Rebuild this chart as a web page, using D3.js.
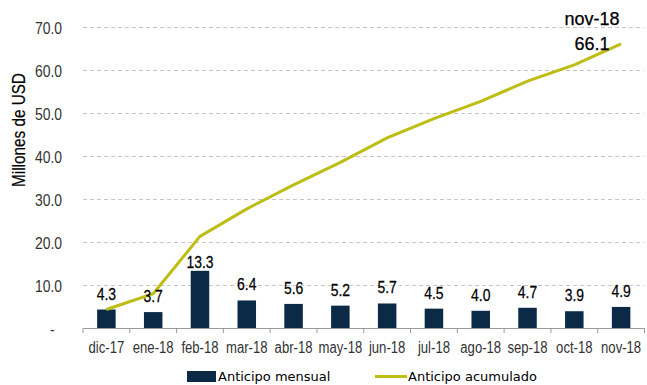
<!DOCTYPE html>
<html>
<head>
<meta charset="utf-8">
<script src="https://cdn.jsdelivr.net/npm/d3@7"></script>
<style>
  html, body { margin: 0; padding: 0; background: #fff; }
  svg { display: block; }
  text { font-family: "Liberation Sans", Arial, sans-serif; }
  .legend text { font-family: "DejaVu Sans", Verdana, sans-serif; }
  .heavy { stroke: #000; stroke-width: 0.25px; paint-order: stroke; }
</style>
</head>
<body>
<svg id="chart" width="647" height="385"></svg>
<script>
// Monthly and accumulated advance payments, millions of USD
const months = ["dic-17", "ene-18", "feb-18", "mar-18", "abr-18", "may-18",
                "jun-18", "jul-18", "ago-18", "sep-18", "oct-18", "nov-18"];
const monthly = [4.3, 3.7, 13.3, 6.4, 5.6, 5.2, 5.7, 4.5, 4.0, 4.7, 3.9, 4.9];
const accumulated = [4.3, 8.0, 21.3, 27.7, 33.3, 38.5, 44.2, 48.7, 52.7, 57.4, 61.2, 66.1];
const yTicks = [0, 10, 20, 30, 40, 50, 60, 70];
const lastLabel = "nov-18";

const barColor = "#0b2a45";
const lineColor = "#bdbd14";
const NARROW = 0.82; // horizontal squeeze giving a condensed face

const svg = d3.select("#chart");
const margin = { left: 83, right: 2.5, top: 27, bottom: 57 };
const W = 647, H = 385;

const x = d3.scaleBand().domain(months).range([margin.left, W - margin.right]).paddingInner(0).paddingOuter(0);
const y = d3.scaleLinear().domain([0, 70]).range([H - margin.bottom, margin.top]);

// condensed text placed at (px, py)
function narrowText(sel, px, py) {
  return sel.attr("x", 0).attr("y", 0)
    .attr("transform", (d, i) => `translate(${px(d, i)},${py(d, i)}) scale(${NARROW},1)`);
}

// dashed gridlines
svg.append("g").selectAll("line").data(yTicks.filter(d => d > 0)).join("line")
  .attr("x1", margin.left).attr("x2", 644)
  .attr("y1", d => Math.round(y(d)) + 0.5).attr("y2", d => Math.round(y(d)) + 0.5)
  .attr("stroke", "#c6c6c6").attr("stroke-width", 1).attr("stroke-dasharray", "4,3");

// y axis labels
const yAxis = d3.axisLeft(y).tickValues(yTicks).tickSize(0).tickPadding(0)
  .tickFormat(d => d === 0 ? "-" : d3.format(".1f")(d));
const gy = svg.append("g").attr("transform", `translate(${margin.left - 21},0)`).call(yAxis);
gy.select(".domain").remove();
gy.attr("font-family", null).attr("font-size", null);
gy.selectAll("text")
  .attr("font-size", 17).attr("fill", "#333").attr("dy", "0.36em")
  .attr("x", d => d === 0 ? -9 : 0)
  .attr("transform", `scale(${NARROW},1)`);

// y axis title
svg.append("text").attr("class", "heavy")
  .attr("transform", `translate(25,130) rotate(-90) scale(0.85,1)`)
  .attr("text-anchor", "middle").attr("font-size", 18).attr("fill", "#000")
  .style("stroke-width", "0.2px")
  .text("Millones de USD");

// bars
const barW = 18.5;
svg.append("g").selectAll("rect").data(months).join("rect")
  .attr("x", d => x(d) + x.bandwidth() / 2 - barW / 2)
  .attr("width", barW)
  .attr("y", (d, i) => y(monthly[i]))
  .attr("height", (d, i) => y(0) - y(monthly[i]))
  .attr("fill", barColor);

// x axis
const xAxis = d3.axisBottom(x).tickSize(0);
const gx = svg.append("g").attr("transform", `translate(0,${y(0)})`).call(xAxis);
gx.attr("font-family", null).attr("font-size", null);
gx.select(".domain").attr("stroke", "#9a9a9a");
gx.selectAll("text").attr("font-size", 16).attr("fill", "#333")
  .attr("y", 25).attr("dy", 0).attr("transform", `scale(${NARROW},1)`);
// band boundary ticks
gx.append("g").selectAll("line").data(d3.range(months.length + 1)).join("line")
  .attr("x1", i => margin.left + i * x.step()).attr("x2", i => margin.left + i * x.step())
  .attr("y1", 0).attr("y2", 5).attr("stroke", "#9a9a9a");

// accumulated line
const line = d3.line().x((d, i) => x(months[i]) + x.bandwidth() / 2).y(d => y(d));
svg.append("path").datum(accumulated).attr("d", line)
  .attr("fill", "none").attr("stroke", lineColor).attr("stroke-width", 3);

// value labels over bars (the tallest sits tight so it clears the line)
const maxMonthly = d3.max(monthly);
narrowText(
  svg.append("g").selectAll("text").data(months).join("text").attr("class", "heavy"),
  d => x(d) + x.bandwidth() / 2,
  (d, i) => y(monthly[i]) - (monthly[i] === maxMonthly ? 3 : 10))
  .attr("text-anchor", "middle").attr("font-size", 17).attr("fill", "#000")
  .text((d, i) => monthly[i].toFixed(1));

// final accumulated label
const lastX = x(months[months.length - 1]) + x.bandwidth() / 2 - 29;
svg.append("text").attr("class", "heavy").attr("x", lastX).attr("y", 25)
  .attr("text-anchor", "middle").attr("font-size", 18).attr("fill", "#000").text(lastLabel);
svg.append("text").attr("class", "heavy").attr("x", lastX).attr("y", 50)
  .attr("text-anchor", "middle").attr("font-size", 18).attr("fill", "#000")
  .text(accumulated[accumulated.length - 1].toFixed(1));

// legend
const lg = svg.append("g").attr("class", "legend");
lg.append("rect").attr("x", 187).attr("y", 371).attr("width", 29).attr("height", 11).attr("fill", barColor);
lg.append("text").attr("x", 218).attr("y", 381).attr("font-size", 13).attr("fill", "#000").text("Anticipo mensual");
lg.append("line").attr("x1", 375).attr("x2", 407).attr("y1", 376.5).attr("y2", 376.5)
  .attr("stroke", lineColor).attr("stroke-width", 3);
lg.append("text").attr("x", 408).attr("y", 381).attr("font-size", 13).attr("fill", "#000").text("Anticipo acumulado");
</script>
</body>
</html>
